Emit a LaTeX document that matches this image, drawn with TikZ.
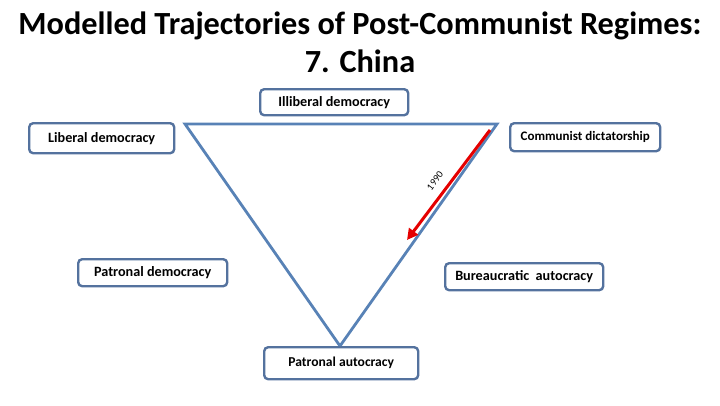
\documentclass[tikz,border=0pt]{standalone}
\usepackage{fontspec}
\setmainfont{Carlito}
\usetikzlibrary{arrows.meta}
\definecolor{boxblue}{RGB}{84,114,158}
\definecolor{triblue}{RGB}{88,130,182}
\tikzset{
  regime/.style={draw=boxblue, line width=2.4pt, rounded corners=4pt, fill=white,
    font=\fontsize{14.2}{16}\selectfont\bfseries, inner sep=0pt, anchor=north west},
  tri/.style={draw=triblue, line width=2.8pt, line join=miter},
  trajectory/.style={draw=red!90!black, line width=3pt, -{Triangle[length=11pt,width=11pt]}},
  yearlabel/.style={font=\fontsize{10}{12}\selectfont, rotate=53, inner sep=0pt},
  titletext/.style={font=\fontsize{32.3}{38}\selectfont\bfseries, align=center}
}
\begin{document}
\begin{tikzpicture}[x=1pt,y=-1pt]
\useasboundingbox (0,0) rectangle (720,405);
\node[titletext] (title) at (360,42) {Modelled Trajectories of Post-Communist Regimes:\\7. China};
% triangle
\coordinate (tl) at (185,124);
\coordinate (tr) at (497,124);
\coordinate (bt) at (340,346);
\draw[tri] (tl) -- (tr) -- (bt) -- cycle;
% boxes
\node[regime, minimum width=148pt, minimum height=26pt] (ill) at (259,88) {Illiberal democracy};
\node[regime, minimum width=145pt, minimum height=30pt] (lib) at (28,122) {Liberal democracy};
\node[regime, minimum width=150pt, minimum height=28pt, font=\fontsize{13}{15}\selectfont\bfseries] (com) at (509,122) {Communist dictatorship};
\node[regime, minimum width=149pt, minimum height=27pt] (pdem) at (77,258) {Patronal democracy};
\node[regime, minimum width=158pt, minimum height=27pt] (bur) at (444,262) {Bureaucratic\ \ autocracy};
\node[regime, minimum width=154pt, minimum height=32pt, font=\fontsize{13.6}{15}\selectfont\bfseries] (paut) at (263,346) {Patronal autocracy};
% trajectory
\coordinate (a1) at (490,130);
\coordinate (a2) at (407,240);
\draw[trajectory] (a1) -- (a2);
\node[yearlabel] (yr) at (435,181) {1990};
\end{tikzpicture}
\end{document}
